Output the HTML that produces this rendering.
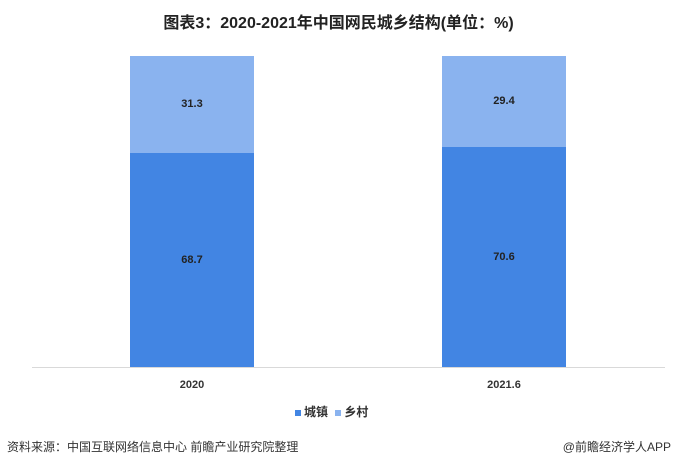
<!DOCTYPE html>
<html><head><meta charset="utf-8"><style>
body{margin:0;width:677px;height:468px;background:#fff;position:relative;overflow:hidden;font-family:"Liberation Sans","Noto Sans CJK SC",sans-serif;}
.a{position:absolute}
.t{left:0;width:677px;text-align:center;top:9px;font-size:16px;font-weight:bold;color:#222}
.bar{position:absolute;width:124px}
.d{background:#4285e3}
.l{background:#8ab3ef}
.v{position:absolute;width:124px;text-align:center;font-size:11px;font-weight:bold;color:#222}
.x{font-size:11px;font-weight:bold;color:#333;width:124px;text-align:center}
</style></head><body>
<div class="a t">图表3：2020-2021年中国网民城乡结构(单位：%)</div>
<div class="bar l" style="left:130px;top:56px;height:97px"></div>
<div class="bar d" style="left:130px;top:153px;height:214px"></div>
<div class="bar l" style="left:442px;top:56px;height:91px"></div>
<div class="bar d" style="left:442px;top:147px;height:220px"></div>
<div class="v" style="left:130px;top:98px">31.3</div>
<div class="v" style="left:130px;top:254px">68.7</div>
<div class="v" style="left:442px;top:95px">29.4</div>
<div class="v" style="left:442px;top:251px">70.6</div>
<div class="a" style="left:32px;top:367px;width:633px;height:1px;background:#d9d9d9"></div>
<div class="a x" style="left:130px;top:379px">2020</div>
<div class="a x" style="left:442px;top:379px">2021.6</div>
<div class="a" style="left:295px;top:403px;font-size:12px;font-weight:bold;color:#333">
<span style="display:inline-block;width:6px;height:6px;background:#4285e3;margin-right:3px"></span>城镇 <span style="display:inline-block;width:6px;height:6px;background:#8ab3ef;margin:0 3px 0 4px"></span>乡村</div>
<div class="a" style="left:7px;top:438px;font-size:12px;color:#333">资料来源：中国互联网络信息中心 前瞻产业研究院整理</div>
<div class="a" style="right:6px;top:438px;font-size:12px;color:#333">@前瞻经济学人APP</div>
</body></html>
